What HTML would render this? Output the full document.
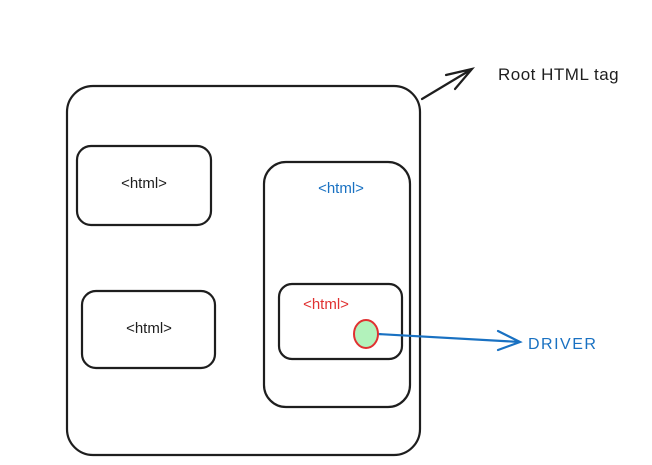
<!DOCTYPE html>
<html><head><style>body{margin:0;background:#fff}svg{display:block}</style></head><body>
<svg width="652" height="465" viewBox="0 0 652 465" xmlns="http://www.w3.org/2000/svg">
<g fill="none" stroke="#1e1e1e" stroke-width="2.2" stroke-linecap="round">
<rect x="67" y="86" width="353" height="369" rx="26"/>
<rect x="77" y="146" width="134" height="79" rx="14"/>
<rect x="82" y="291" width="133" height="77" rx="14"/>
<rect x="264" y="162" width="146" height="245" rx="22"/>
<rect x="279" y="284" width="123" height="75" rx="13"/>
<path d="M422 99 L472 69 M446 75 L472 69 L455 89"/>
</g>
<path d="M378 334 L520 342 M498 331 L520 342 L498 350" fill="none" stroke="#1971c2" stroke-width="2.2" stroke-linecap="round"/>
<ellipse cx="366" cy="334" rx="12" ry="14" fill="#b2f2bb" stroke="#e03131" stroke-width="2"/>
<g font-family="'Comic Sans MS','Liberation Sans',sans-serif" font-size="15">
<text x="144" y="188" text-anchor="middle" fill="#1e1e1e">&lt;html&gt;</text>
<text x="149" y="333" text-anchor="middle" fill="#1e1e1e">&lt;html&gt;</text>
<text x="341" y="193" text-anchor="middle" fill="#1971c2">&lt;html&gt;</text>
<text x="326" y="309" text-anchor="middle" fill="#e03131">&lt;html&gt;</text>
<text x="528" y="349" fill="#1971c2" font-size="16" letter-spacing="1.5">DRIVER</text>
<text x="498" y="80" fill="#1e1e1e" font-size="17" letter-spacing="0.5">Root HTML tag</text>
</g>
</svg>
</body></html>
